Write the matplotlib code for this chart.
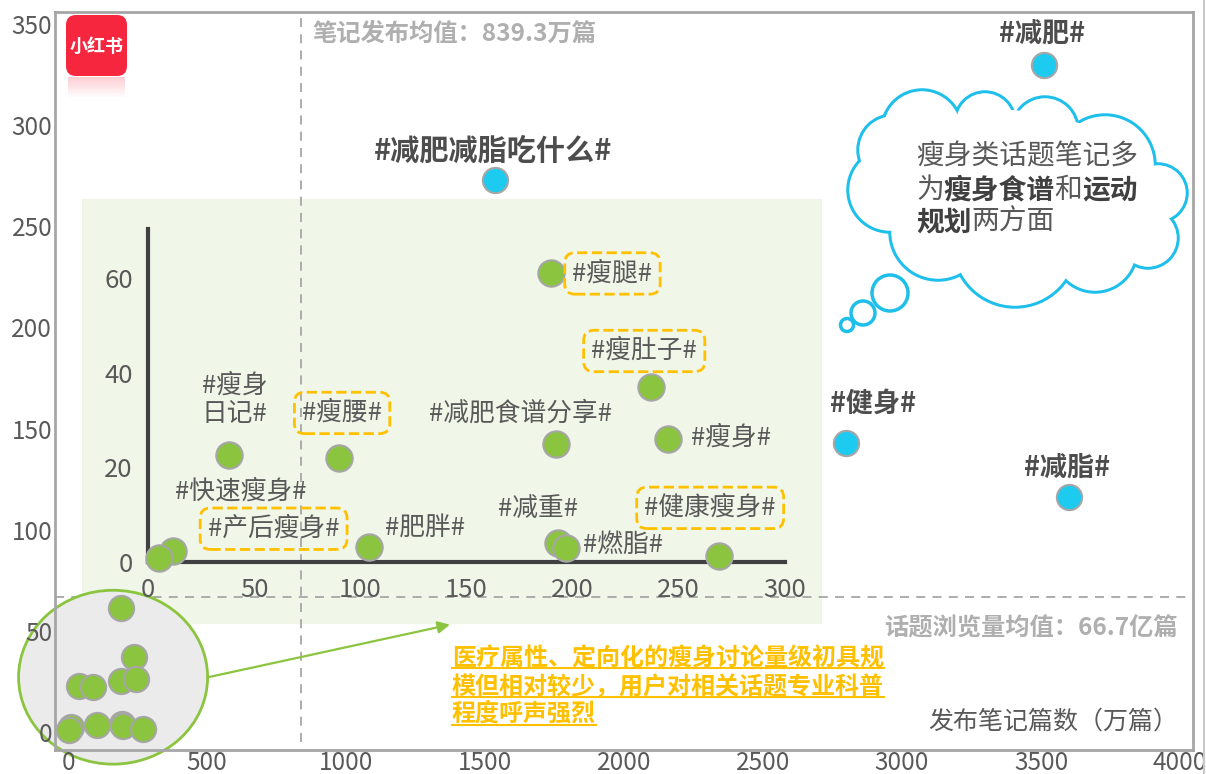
import matplotlib.pyplot as plt
from matplotlib.patches import Ellipse, Rectangle, FancyBboxPatch, Circle

plt.rcParams['font.family'] = ['Noto Sans CJK SC', 'DejaVu Sans']

# big topics (blue dots)
big_names = ['#减肥#', '#减肥减脂吃什么#', '#健身#', '#减脂#']
big_notes = [3510, 1535, 2800, 3600]      # 发布笔记篇数（万篇）
big_views = [330, 273, 143, 116]          # 话题浏览量（亿）

# small topics (green dots, also shown enlarged in the zoom panel)
small_names = ['#瘦腿#', '#瘦肚子#', '#减肥食谱分享#', '#瘦身#', '#减重#', '#燃脂#',
               '#健康瘦身#', '#瘦身\n日记#', '#瘦腰#', '#肥胖#', '#快速瘦身#', '#产后瘦身#']
small_notes = [190, 237, 192, 245, 193, 197, 269, 38, 90, 104, 12, 5]
small_views = [61, 37, 25, 26, 4, 3, 1.3, 22.6, 22, 3.2, 2.3, 0.9]
boxed = ['#瘦腿#', '#瘦肚子#', '#瘦腰#', '#产后瘦身#', '#健康瘦身#']

note_mean = 839.3
view_mean = 66.7

main_xticks = [0, 500, 1000, 1500, 2000, 2500, 3000, 3500, 4000]
main_yticks = [0, 50, 100, 150, 200, 250, 300, 350]
zoom_xticks = [0, 50, 100, 150, 200, 250, 300]
zoom_yticks = [0, 20, 40, 60]

# label offsets (pixels, right / down)
big_off = {'#减肥#': (-2, -30), '#减肥减脂吃什么#': (-2, -29), '#健身#': (27, -39), '#减脂#': (-2, -29)}
small_off = {'#瘦腿#': (61, 0), '#瘦肚子#': (-7, -36), '#减肥食谱分享#': (-35, -30), '#瘦身#': (63, -1),
             '#减重#': (-20, -34), '#燃脂#': (57, -3), '#健康瘦身#': (-9, -48), '#瘦身\n日记#': (6, -55),
             '#瘦腰#': (3, -45), '#肥胖#': (56, -19), '#快速瘦身#': (67, -60), '#产后瘦身#': (115, -29)}

GREEN = '#8BC43F'
BLUE = '#1ECBF0'
EDGE = '#A6A6A6'
TXT = '#595959'
GOLD = '#FFC000'

W, H = 1206, 774
fig = plt.figure(figsize=(W / 100, H / 100), dpi=100)

# ---- main axes ----
ax = fig.add_axes([55 / W, (H - 750) / H, (1193 - 55) / W, (750 - 12) / H])
ax.set_xlim(-47, 4047)
ax.set_ylim(-9, 356)
for s in ax.spines.values():
    s.set_color('#A6A6A6')
    s.set_linewidth(2)
ax.set_xticks(main_xticks)
ax.set_yticks(main_yticks)
ax.tick_params(length=0, labelsize=17.5, colors=TXT, pad=2)
ax.tick_params(axis='x', pad=0)

ax.add_patch(Rectangle((50, 53.5), 2662, 210, fc='#F0F6E8', ec='none', zorder=0.5))
ax.vlines(note_mean, -5, 356, colors='#A6A6A6', linestyles=(0, (5, 4)), lw=1.3, zorder=1)
ax.axhline(view_mean, color='#A6A6A6', ls=(0, (5, 4)), lw=1.3, zorder=1)

ax.add_patch(Ellipse((162, 27), 680, 86, fc='#EBEBEB', ec=GREEN, lw=2, zorder=1.5, clip_on=False))
ax.annotate('', xy=(1374, 53), xytext=(504, 27),
            arrowprops=dict(arrowstyle='-|>', color=GREEN, lw=1.6, mutation_scale=18, shrinkA=0, shrinkB=0))

ax.scatter(small_notes, small_views, s=330, c=GREEN, edgecolors=EDGE, linewidths=1.5, zorder=3, clip_on=False)
ax.scatter(big_notes, big_views, s=330, c=BLUE, edgecolors=EDGE, linewidths=1.5, zorder=3)
for n, x, y in zip(big_names, big_notes, big_views):
    dx, dy = big_off[n]
    fs = 21 if len(n) > 6 else 19.5
    ax.annotate(n, (x, y), xytext=(dx, -dy), textcoords='offset pixels', ha='center', va='center',
                fontsize=fs, fontweight='bold', color='#4D4D4D')

ax.text(878, 345, '笔记发布均值：839.3万篇', fontsize=17.5, fontweight='bold', fontstyle='italic',
        color='#AFAFAF', ha='left', va='center')
ax.text(3993, 51, '话题浏览量均值：66.7亿篇', fontsize=17.5, fontweight='bold', fontstyle='italic',
        color='#AFAFAF', ha='right', va='center')
ax.text(3993, 5, '发布笔记篇数（万篇）', fontsize=18, color=TXT, ha='right', va='center')

# ---- zoom panel ----
ins = fig.add_axes([148 / W, (H - 562) / H, (785 - 148) / W, (562 - 229) / H], facecolor='none')
ins.set_xlim(0, 300)
ins.set_ylim(0, 70.4)
ins.spines['top'].set_visible(False)
ins.spines['right'].set_visible(False)
for s in ('left', 'bottom'):
    ins.spines[s].set_color('#404040')
    ins.spines[s].set_linewidth(3)
ins.set_xticks(zoom_xticks)
ins.set_yticks(zoom_yticks)
ins.tick_params(length=0, labelsize=18.5, colors=TXT, pad=11)
ins.scatter(small_notes, small_views, s=360, c=GREEN, edgecolors=EDGE, linewidths=1.5, zorder=3, clip_on=False)
for n, x, y in zip(small_names, small_notes, small_views):
    dx, dy = small_off[n]
    bbox = None
    if n in boxed:
        bbox = dict(boxstyle='round,pad=0.3,rounding_size=0.4', fc='none', ec=GOLD, ls='--', lw=2)
    ins.annotate(n, (x, y), xytext=(dx, -dy), textcoords='offset pixels', ha='center', va='center',
                 fontsize=18.5, color=TXT, bbox=bbox, linespacing=1.1, annotation_clip=False)

# ---- overlay (pixel coordinates) ----
ov = fig.add_axes([0, 0, 1, 1], facecolor='none')
ov.set_xlim(0, W)
ov.set_ylim(H, 0)
ov.axis('off')
ov.vlines(1204, 0, H, colors='#C8C8C8', lw=1.5)

# logo
ov.add_patch(FancyBboxPatch((66, 15), 61, 61, boxstyle='round,pad=0,rounding_size=10', fc='#F7263F', ec='none'))
for i in range(10):
    ov.add_patch(Rectangle((68, 77 + 2 * i), 57, 2, fc='#F7263F', ec='none', alpha=0.22 * (1 - i / 10)))
ov.text(97, 46, '小红书', color='white', fontsize=13, fontweight='bold', ha='center', va='center')

# thought cloud: outline bumps, then white fill over them (plus interior fill circles)
bumps = [(922, 130, 40), (985, 122, 30), (1045, 130, 33), (1105, 165, 50), (1158, 193, 29),
         (1148, 238, 30), (1095, 250, 42), (1015, 245, 62), (938, 232, 48), (890, 190, 42),
         (893, 150, 35)]
fillers = [(1010, 190, 80), (1100, 208, 45), (950, 185, 50), (1060, 180, 60)]
for cx, cy, r in bumps:
    ov.add_patch(Circle((cx, cy), r, fc='none', ec='#1EBFEA', lw=2.5, zorder=1))
for cx, cy, r in bumps:
    ov.add_patch(Circle((cx, cy), r - 1.3, fc='white', ec='none', zorder=2))
for cx, cy, r in fillers:
    ov.add_patch(Circle((cx, cy), r, fc='white', ec='none', zorder=2))
for cx, cy, r in [(890, 293, 18), (863, 313, 12), (847, 325, 6.5)]:
    ov.add_patch(Circle((cx, cy), r, fc='none', ec='#1EBFEA', lw=2.5, zorder=2))

cw = 27.75
cloud_lines = [
    [('瘦身类话题笔记多', 'normal')],
    [('为', 'normal'), ('瘦身食谱', 'bold'), ('和', 'normal'), ('运动', 'bold')],
    [('规划', 'bold'), ('两方面', 'normal')],
]
for segs, yc in zip(cloud_lines, [156, 190, 222]):
    x0 = 916
    for seg, wt in segs:
        ov.text(x0, yc, seg, fontsize=20, fontweight=wt, color='#404040' if wt == 'bold' else TXT,
                ha='left', va='center', zorder=3)
        x0 += cw * len(seg)

# gold note with underline
note_lines = ['医疗属性、定向化的瘦身讨论量级初具规', '模但相对较少，用户对相关话题专业科普', '程度呼声强烈']
note_texts = []
for line, yc in zip(note_lines, [659, 687, 714]):
    note_texts.append(ov.text(452, yc, line, fontsize=17.3, fontweight='bold', color=GOLD, ha='left', va='center'))
fig.canvas.draw()
inv = ov.transData.inverted()
for t, yu in zip(note_texts, [668, 697, 725]):
    bb = t.get_window_extent()
    (xa, _), (xb, _) = inv.transform([(bb.x0, bb.y0), (bb.x1, bb.y0)])
    ov.plot([xa, xb], [yu, yu], color=GOLD, lw=1.5)

fig.savefig('out.png', dpi=100)
